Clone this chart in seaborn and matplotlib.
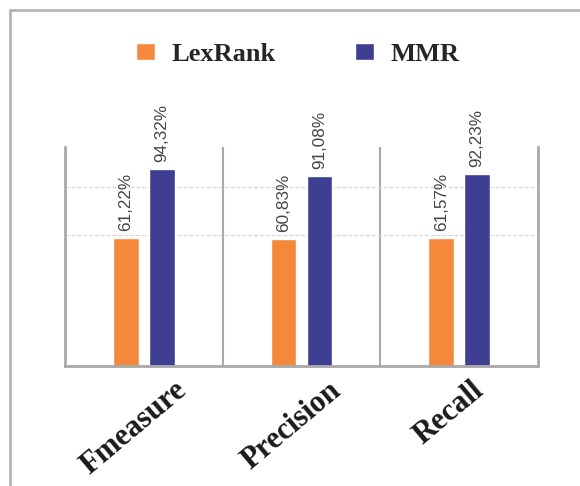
import pandas as pd
import seaborn as sns
import matplotlib.pyplot as plt
import matplotlib.transforms as mtransforms
from matplotlib.lines import Line2D

# data
categories = ['Fmeasure', 'Precision', 'Recall']
lexrank = [61.22, 60.83, 61.57]
mmr = [94.32, 91.08, 92.23]
methods = ['LexRank', 'MMR']

df = pd.DataFrame({
    'metric': categories * 2,
    'method': ['LexRank'] * 3 + ['MMR'] * 3,
    'score': lexrank + mmr,
})

colors = {'LexRank': '#F5883A', 'MMR': '#3E3F92'}
line_gray = '#A9A9A9'

sns.set_style('white')
plt.rcParams['font.family'] = ['Liberation Sans', 'DejaVu Sans']

fig = plt.figure(figsize=(5.8, 4.86), dpi=100)
ax = fig.add_axes([65 / 580, 1 - 366 / 486, 473 / 580, 219 / 486])

sns.barplot(data=df, x='metric', y='score', hue='method', hue_order=methods,
            palette=colors, width=0.456, gap=0.28, ax=ax, errorbar=None,
            saturation=1)

# value labels, comma as decimal sign
for cont, vals in zip(ax.containers, [lexrank, mmr]):
    labels = [f'{v:.2f}%'.replace('.', ',') for v in vals]
    ax.bar_label(cont, labels=labels, rotation=90, padding=5,
                 fontsize=12.3, color='#454545')

ax.set_ylim(0, 105)
ax.set_xlim(-0.5, 2.5)

# light dashed gridlines
ax.set_yticks([62.8, 85.8])
ax.set_yticklabels([])
ax.tick_params(axis='y', length=0)
ax.grid(axis='y', color='#D6D6D6', linestyle='--', linewidth=0.8)
ax.set_axisbelow(True)

# separators between groups
for xpos in [0.5, 1.5]:
    ax.axvline(xpos, color=line_gray, linewidth=1.5, zorder=0.5)

for side in ['left', 'right', 'bottom']:
    ax.spines[side].set_color(line_gray)
    ax.spines[side].set_linewidth(2)
ax.spines['top'].set_visible(False)

ax.set_xlabel('')
ax.set_ylabel('')
ax.tick_params(axis='x', length=0, pad=7)
offset = mtransforms.ScaledTranslation(-10 / 100, 0, fig.dpi_scale_trans)
for lab in ax.get_xticklabels():
    lab.set_rotation(40)
    lab.set_ha('center')
    lab.set_va('top')
    lab.set_fontfamily('Liberation Serif')
    lab.set_fontweight('bold')
    lab.set_fontsize(22)
    lab.set_color('#1A1A1A')
    lab.set_transform(lab.get_transform() + offset)

# legend on top
ax.legend(loc='center', bbox_to_anchor=(298 / 580, 1 - 54 / 486),
          bbox_transform=fig.transFigure, ncol=2, frameon=False,
          prop={'family': 'Liberation Serif', 'weight': 'bold', 'size': 19},
          handlelength=0.72, handleheight=0.62, handletextpad=0.62,
          columnspacing=3.0)

# box frame (top and left only)
fig.add_artist(Line2D([10 / 580, 1], [1 - 10 / 486] * 2, transform=fig.transFigure,
                      color='#B4B4B4', linewidth=2))
fig.add_artist(Line2D([10 / 580] * 2, [0, 1 - 10 / 486], transform=fig.transFigure,
                      color='#B4B4B4', linewidth=2))

fig.savefig('out.png', dpi=100)
